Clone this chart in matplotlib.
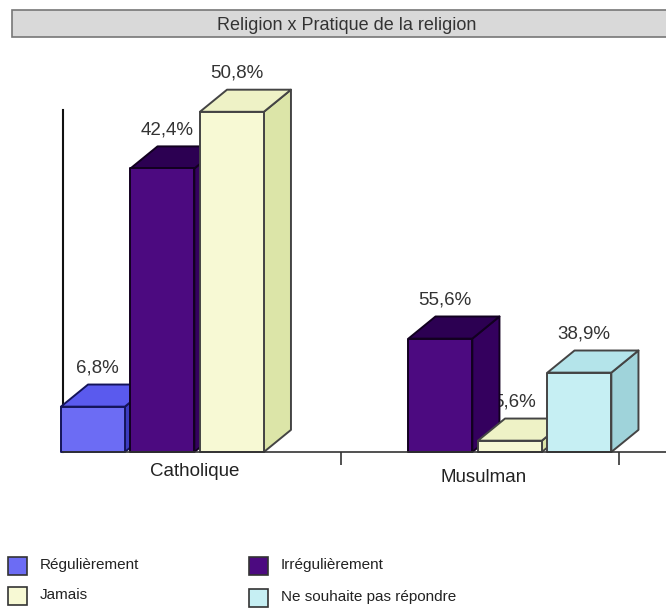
import matplotlib.pyplot as plt
from matplotlib.patches import Rectangle, Polygon
from matplotlib.transforms import offset_copy

plt.rcParams['font.family'] = ['Liberation Sans', 'DejaVu Sans']

# data: bar heights are the counts, labels are the row percentages
categories = ['Catholique', 'Musulman']
series = ['Régulièrement', 'Irrégulièrement', 'Jamais', 'Ne souhaite pas répondre']
counts = {
    'Catholique': [8, 50, 60, 0],
    'Musulman': [0, 20, 2, 14],
}
labels = {
    'Catholique': ['6,8%', '42,4%', '50,8%', None],
    'Musulman': [None, '55,6%', '5,6%', '38,9%'],
}

# (front, top, side, edge)
colors = [
    ('#6c6cf4', '#5a5aee', '#3c3cc0', '#14145a'),
    ('#4c0a80', '#2c0052', '#34005e', '#120020'),
    ('#f7f9d4', '#eef2c6', '#dce5a8', '#444444'),
    ('#c6eff3', '#b4e4ea', '#9fd3da', '#444444'),
]

W = 0.92      # front face width (slot units)
DX = 0.39     # depth offset x
DY = 3.9      # depth offset y

fig = plt.figure(figsize=(6.66, 6.09), dpi=100)
ax = fig.add_axes([63 / 666, 157 / 609, 603 / 666, 342 / 609])
ax.set_xlim(0, 603 / 69.5)
ax.set_ylim(0, 342 / 5.67)


def draw_bar(ax, x0, h, cols, z):
    front, top, side, edge = cols
    kw = dict(edgecolor=edge, linewidth=1.4, clip_on=False, zorder=z, joinstyle='round')
    ax.add_patch(Polygon([(x0 + W, 0), (x0 + W + DX, DY), (x0 + W + DX, h + DY), (x0 + W, h)],
                         facecolor=side, **kw))
    ax.add_patch(Polygon([(x0, h), (x0 + DX, h + DY), (x0 + W + DX, h + DY), (x0 + W, h)],
                         facecolor=top, **kw))
    ax.add_patch(Rectangle((x0, 0), W, h, facecolor=front, **kw))


z = 3
for i, cat in enumerate(categories):
    for j, val in enumerate(counts[cat]):
        x0 = i * 4 + j - 0.03
        if val > 0:
            draw_bar(ax, x0, val, colors[j], z)
        lab = labels[cat][j]
        if lab is not None:
            ax.text(x0 + 0.53, val + DY, lab, ha='center', va='bottom',
                    fontsize=13.5, color='#333333', zorder=2,
                    transform=offset_copy(ax.transData, fig=fig, y=6, units='points'))
        z += 1

# axes lines
for s in ['top', 'right']:
    ax.spines[s].set_visible(False)
ax.spines['left'].set_linewidth(1.5)
ax.spines['left'].set_color('#111111')
ax.spines['bottom'].set_linewidth(1.2)
ax.spines['bottom'].set_color('#333333')
ax.spines['bottom'].set_zorder(20)
ax.set_yticks([])
ax.set_xticks([4, 8])
ax.set_xticklabels(['', ''])
ax.tick_params(axis='x', length=9, width=1.2, color='#333333', direction='out')
ax.set_facecolor('none')

cat_x = [1.9, 6.05]
cat_y = [-19, -26]
for i, cat in enumerate(categories):
    ax.text(cat_x[i], 0, cat, ha='center', va='center', fontsize=13.5, color='#222222',
            transform=offset_copy(ax.transData, fig=fig, y=cat_y[i] * 0.72, units='points'))

# title bar
fig.add_artist(Rectangle((12 / 666, 1 - 37 / 609), 660 / 666, 27 / 609, transform=fig.transFigure,
                         facecolor='#d9d9d9', edgecolor='#777777', linewidth=1.2))
fig.text(347 / 666, 1 - 26 / 609, 'Religion x Pratique de la religion', ha='center', va='center',
         fontsize=13, color='#333333')

# legend
leg_pos = [(8, 557), (249, 557), (8, 587), (249, 589)]
for j in range(4):
    px, py = leg_pos[j]
    fig.add_artist(Rectangle((px / 666, 1 - (py + 18) / 609), 19 / 666, 18 / 609,
                             transform=fig.transFigure, facecolor=colors[j][0],
                             edgecolor='#333333', linewidth=1.2))
    fig.text((px + 32) / 666, 1 - (py + 8) / 609, series[j], ha='left', va='center',
             fontsize=11, color='#222222')

fig.savefig('out.png', dpi=100)
